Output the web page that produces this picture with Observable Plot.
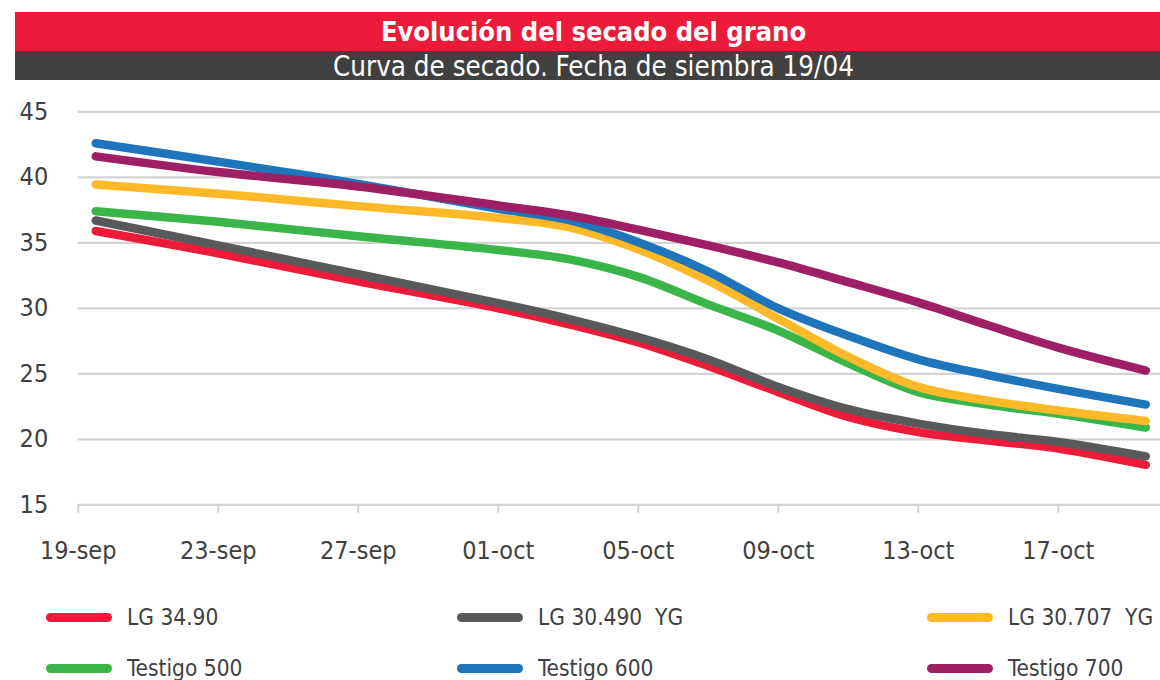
<!DOCTYPE html>
<html>
<head>
<meta charset="utf-8">
<script src="https://cdn.jsdelivr.net/npm/d3@7"></script>
<script src="https://cdn.jsdelivr.net/npm/@observablehq/plot@0.6"></script>
<style>
  html, body { margin: 0; padding: 0; background: #fff; width: 1160px; height: 680px; overflow: hidden; }
  body { position: relative; font-family: "DejaVu Sans Condensed", "Liberation Sans Narrow", "Roboto", sans-serif; }
  #title { position: absolute; left: 15px; top: 12px; width: 1145px; height: 39px; background: #ED1B3A; color: #fff;
           font-weight: bold; font-size: 27px; line-height: 40px; text-align: center; text-indent: 12px; }
  #subtitle { position: absolute; left: 15px; top: 51px; width: 1145px; height: 29px; background: #404040; color: #fff;
           font-size: 27.5px; line-height: 30px; text-align: center; text-indent: 12px; }
  #chart { position: absolute; left: 0; top: 90px; }
  #legend { position: absolute; left: 0; top: 0; }
  .item { position: absolute; display: flex; align-items: center; font-size: 22.5px; color: #404040; white-space: nowrap; }
  .sw { width: 66px; height: 9px; border-radius: 5px; margin-right: 15px; flex: none; }
</style>
</head>
<body>
<div id="title">Evolución del secado del grano</div>
<div id="subtitle">Curva de secado. Fecha de siembra 19/04</div>
<div id="chart"></div>
<div id="legend"></div>
<script>
// Days counted from the 19-sep tick
const days = [0.5, 4, 8, 12, 14, 16, 18, 20, 22, 24, 26, 28, 30.5];
const tickDays = [0, 4, 8, 12, 16, 20, 24, 28];
const tickLabels = ["19-sep", "23-sep", "27-sep", "01-oct", "05-oct", "09-oct", "13-oct", "17-oct"];
const yTicks = [15, 20, 25, 30, 35, 40, 45];

const seriesNames = ["LG 34.90", "LG 30.490  YG", "LG 30.707  YG", "Testigo 500", "Testigo 600", "Testigo 700"];
const seriesColors = ["#ED1B3A", "#58595B", "#FDB927", "#3AB54A", "#1F75BC", "#9E1F63"];

const lg3490   = [35.9, 34.2, 32.05, 30.0, 28.8, 27.4, 25.6, 23.6, 21.7, 20.55, 19.9, 19.3, 18.05];
const lg30490  = [36.7, 34.8, 32.6, 30.4, 29.2, 27.8, 26.1, 24.0, 22.3, 21.2, 20.4, 19.8, 18.7];
const lg30707  = [39.45, 38.75, 37.8, 36.9, 36.2, 34.5, 32.1, 29.2, 26.3, 24.0, 22.95, 22.2, 21.4];
const test500  = [37.4, 36.6, 35.5, 34.45, 33.75, 32.4, 30.3, 28.3, 25.8, 23.6, 22.65, 21.95, 20.9];
const test600  = [42.6, 41.2, 39.5, 37.6, 36.75, 35.05, 32.8, 30.0, 27.9, 26.1, 24.9, 23.85, 22.65];
const test700  = [41.6, 40.4, 39.3, 37.85, 37.1, 36.0, 34.8, 33.5, 32.0, 30.45, 28.7, 27.0, 25.25];

const seriesValues = [lg3490, lg30490, lg30707, test500, test600, test700];
const drawOrder = [0, 1, 3, 2, 4, 5];

const rows = [];
for (const s of drawOrder) {
  seriesValues[s].forEach((v, i) => rows.push({ day: days[i], value: v, series: seriesNames[s] }));
}

const font = '"DejaVu Sans Condensed", "Liberation Sans Narrow", "Roboto", sans-serif';

const chart = Plot.plot({
  width: 1160,
  height: 480,
  marginLeft: 77.7,
  marginRight: 0,
  marginTop: 21.3,
  marginBottom: 65.7,
  style: { fontFamily: font, fontSize: "25px", color: "#404040", background: "transparent", overflow: "visible" },
  x: { domain: [0, 30.92], axis: null },
  y: { domain: [15, 45], axis: null },
  color: { domain: seriesNames, range: seriesColors },
  marks: [
    Plot.ruleY(yTicks, { stroke: "#d4d4d4", strokeWidth: 2.2 }),
    Plot.ruleX(tickDays, { x: d => d, y1: () => 15, y2: () => 14.35, stroke: "#d4d4d4", strokeWidth: 2.2 }),
    Plot.axisY(yTicks, { label: null, tickSize: 0, tickPadding: 30, fontSize: 25, fill: "#404040", textAnchor: "end" }),
    Plot.axisX(tickDays, { label: null, tickSize: 0, tickPadding: 36, fontSize: 25, fill: "#404040", tickFormat: (d, i) => tickLabels[i] }),
    Plot.line(rows, { x: "day", y: "value", z: "series", stroke: "series", strokeWidth: 8.5,
                      strokeLinecap: "round", strokeLinejoin: "round", curve: "catmull-rom" })
  ]
});
document.getElementById("chart").appendChild(chart);

// Legend
const legendPos = [[46, 617], [457, 617], [927, 617], [46, 668], [457, 668], [927, 668]];
const legend = document.getElementById("legend");
seriesNames.forEach((name, i) => {
  const item = document.createElement("div");
  item.className = "item";
  item.style.left = legendPos[i][0] + "px";
  item.style.top = (legendPos[i][1] - 15) + "px";
  item.style.height = "30px";
  const sw = document.createElement("div");
  sw.className = "sw";
  sw.style.background = seriesColors[i];
  const label = document.createElement("span");
  label.textContent = name;
  label.style.whiteSpace = "pre";
  item.appendChild(sw);
  item.appendChild(label);
  legend.appendChild(item);
});
</script>
</body>
</html>
